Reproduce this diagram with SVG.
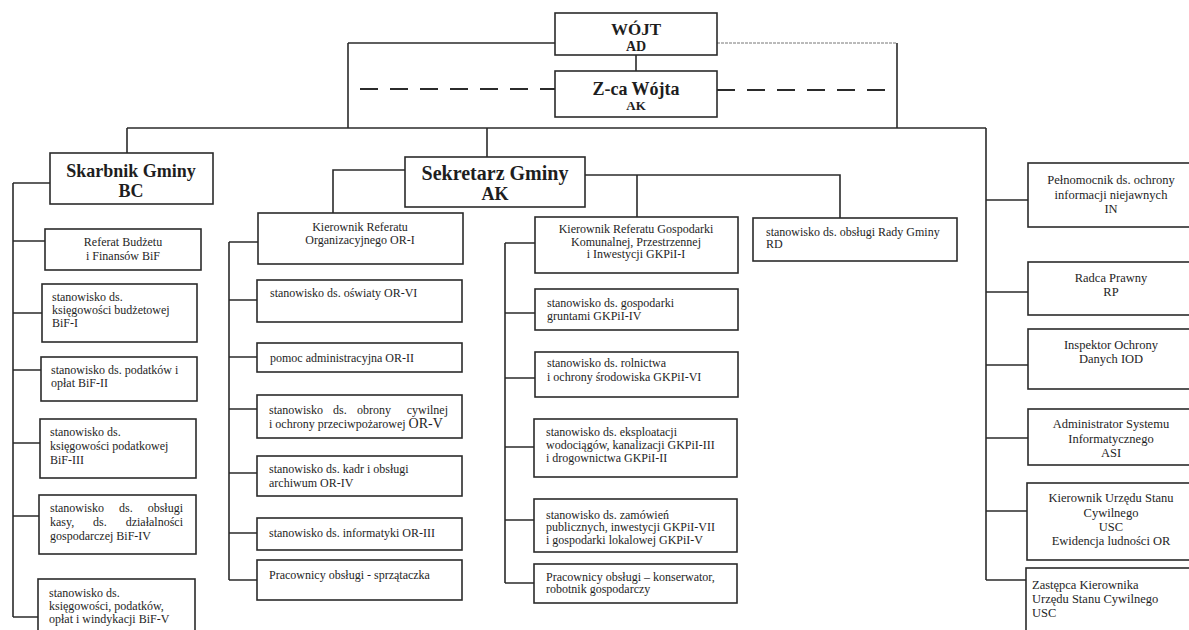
<svg xmlns="http://www.w3.org/2000/svg" width="1189" height="630" viewBox="0 0 1189 630">
<style>
.box{fill:#fff;stroke:#2b2b2b;stroke-width:1.6}
.ln{fill:none;stroke:#2b2b2b;stroke-width:1.6}
.dash{fill:none;stroke:#2b2b2b;stroke-width:2;stroke-dasharray:18 12}
.dot{fill:none;stroke:#777;stroke-width:1;stroke-dasharray:3 1}
text{font-family:"Liberation Serif","Times New Roman",serif;font-size:12px;fill:#1e1e1e}
.c{text-anchor:middle}
.e{text-anchor:end}
.b{font-weight:bold}
.r{font-size:12.5px}
</style>
<rect width="1189" height="630" fill="#fff"/>
<g id="connectors">
<path class="ln" d="M348,43 H555 M348,43 V128 M636,55 V71 M897,43 V128"/>
<path class="dot" d="M717,43 H897"/>
<path class="dash" d="M360,89 H555 M717,90 H892"/>
<path class="ln" d="M127,128 H986 M127,128 V153 M487,128 V157 M986,128 V580"/>
<path class="ln" d="M13,183 V617 M13,183 H50 M13,241 H45 M13,313 H42 M13,370 H41 M13,443 H40 M13,516 H39 M13,617 H38"/>
<path class="ln" d="M405,170 H333 V213 M585,175 H840 V218 M637,175 V217"/>
<path class="ln" d="M229,242 V580 M229,242 H258 M229,300 H257 M229,357 H257 M229,409 H257 M229,473 H257 M229,533 H257 M229,580 H257"/>
<path class="ln" d="M505,243 V583 M505,243 H535 M505,313 H535 M505,378 H535 M505,447 H534 M505,520 H534 M505,583 H534"/>
<path class="ln" d="M986,200 H1028 M986,292 H1028 M986,365 H1028 M986,438 H1028 M986,511 H1028 M986,580 H1028"/>
</g>
<g id="wojt"><rect class="box" x="555" y="13" width="162" height="42"/>
<text class="c b" x="636" y="35" style="font-size:17px">WÓJT</text><text class="c b" x="636" y="51" style="font-size:14px">AD</text></g>
<g id="zca"><rect class="box" x="555" y="71" width="162" height="46"/>
<text class="c b" x="636" y="95" style="font-size:18px">Z-ca Wójta</text><text class="c b" x="636" y="110" style="font-size:13px">AK</text></g>
<g id="skarbnik"><rect class="box" x="50" y="153" width="163" height="51"/>
<text class="c b" x="131" y="177" style="font-size:18px">Skarbnik Gminy</text><text class="c b" x="131" y="197" style="font-size:18px">BC</text></g>
<g id="sekretarz"><rect class="box" x="405" y="157" width="180" height="50"/>
<text class="c b" x="495" y="180" style="font-size:20px">Sekretarz Gminy</text><text class="c b" x="495" y="200" style="font-size:18px">AK</text></g>
<g id="bif"><rect class="box" x="45" y="229" width="156" height="41"/>
<text class="c" x="123" y="246">Referat Budżetu</text><text class="c" x="123" y="260">i Finansów BiF</text></g>
<g id="bif1"><rect class="box" x="42" y="284" width="155" height="58"/>
<text x="52" y="301">stanowisko ds.</text><text x="52" y="314">księgowości budżetowej</text><text x="52" y="327">BiF-I</text></g>
<g id="bif2"><rect class="box" x="41" y="357" width="156" height="44"/>
<text x="51" y="374">stanowisko ds. podatków i</text><text x="51" y="387">opłat BiF-II</text></g>
<g id="bif3"><rect class="box" x="40" y="419" width="156" height="59"/>
<text x="50" y="436">stanowisko ds.</text><text x="50" y="450">księgowości podatkowej</text><text x="50" y="464">BiF-III</text></g>
<g id="bif4"><rect class="box" x="39" y="495" width="157" height="59"/>
<text x="50" y="512">stanowisko</text><text x="119" y="512">ds.</text><text class="e" x="183" y="512">obsługi</text>
<text x="50" y="526">kasy,</text><text x="93" y="526">ds.</text><text class="e" x="183" y="526">działalności</text>
<text x="50" y="540">gospodarczej BiF-IV</text></g>
<g id="bif5"><rect class="box" x="38" y="579" width="157" height="62"/>
<text x="49" y="597">stanowisko ds.</text><text x="49" y="610">księgowości, podatków,</text><text x="49" y="623">opłat i windykacji BiF-V</text></g>
<g id="or1"><rect class="box" x="258" y="213" width="205" height="51"/>
<text class="c" x="360" y="231">Kierownik Referatu</text><text class="c" x="360" y="244">Organizacyjnego OR-I</text></g>
<g id="or6"><rect class="box" x="257" y="280" width="205" height="42"/>
<text x="270" y="297">stanowisko ds. oświaty OR-VI</text></g>
<g id="or2"><rect class="box" x="257" y="343" width="205" height="29"/>
<text x="270" y="362">pomoc administracyjna OR-II</text></g>
<g id="or5"><rect class="box" x="257" y="395" width="205" height="43"/>
<text x="269" y="414">stanowisko</text><text x="333" y="414">ds.</text><text x="357" y="414">obrony</text><text class="e" x="448" y="414">cywilnej</text>
<text x="269" y="428">i ochrony przeciwpożarowej <tspan style="font-size:14px">OR-V</tspan></text></g>
<g id="or4"><rect class="box" x="257" y="456" width="205" height="40"/>
<text x="269" y="473">stanowisko ds. kadr i obsługi</text><text x="269" y="487">archiwum OR-IV</text></g>
<g id="or3"><rect class="box" x="257" y="518" width="205" height="32"/>
<text x="269" y="537">stanowisko ds. informatyki OR-III</text></g>
<g id="orp"><rect class="box" x="257" y="560" width="205" height="40"/>
<text x="269" y="579">Pracownicy obsługi - sprzątaczka</text></g>
<g id="gk1"><rect class="box" x="535" y="217" width="203" height="56"/>
<text class="c" x="636" y="233">Kierownik Referatu Gospodarki</text><text class="c" x="636" y="246">Komunalnej, Przestrzennej</text><text class="c" x="636" y="258">i Inwestycji GKPiI-I</text></g>
<g id="gk4"><rect class="box" x="535" y="289" width="203" height="41"/>
<text x="547" y="307">stanowisko ds. gospodarki</text><text x="547" y="320">gruntami GKPiI-IV</text></g>
<g id="gk6"><rect class="box" x="535" y="352" width="203" height="45"/>
<text x="547" y="367">stanowisko ds. rolnictwa</text><text x="547" y="381">i ochrony środowiska GKPiI-VI</text></g>
<g id="gk3"><rect class="box" x="534" y="419" width="203" height="58"/>
<text x="546" y="436">stanowisko ds. eksploatacji</text><text x="546" y="449">wodociągów, kanalizacji  GKPiI-III</text><text x="546" y="462">i drogownictwa GKPiI-II</text></g>
<g id="gk7"><rect class="box" x="534" y="499" width="203" height="53"/>
<text x="546" y="519">stanowisko ds. zamówień</text><text x="546" y="531">publicznych, inwestycji GKPiI-VII</text><text x="546" y="544">i gospodarki lokalowej GKPiI-V</text></g>
<g id="gkp"><rect class="box" x="534" y="564" width="203" height="39"/>
<text x="546" y="581">Pracownicy obsługi – konserwator,</text><text x="546" y="593">robotnik gospodarczy</text></g>
<g id="rd"><rect class="box" x="753" y="218" width="204" height="43"/>
<text x="766" y="236">stanowisko ds. obsługi Rady Gminy</text><text x="766" y="248">RD</text></g>
<g id="in"><rect class="box" x="1028" y="163" width="170" height="64"/>
<text class="c r" x="1111" y="184">Pełnomocnik ds. ochrony</text><text class="c r" x="1111" y="199">informacji niejawnych</text><text class="c r" x="1111" y="213">IN</text></g>
<g id="rp"><rect class="box" x="1028" y="262" width="170" height="53"/>
<text class="c r" x="1111" y="282">Radca Prawny</text><text class="c r" x="1111" y="296">RP</text></g>
<g id="iod"><rect class="box" x="1028" y="329" width="170" height="60"/>
<text class="c r" x="1111" y="349">Inspektor Ochrony</text><text class="c r" x="1111" y="363">Danych IOD</text></g>
<g id="asi"><rect class="box" x="1028" y="409" width="170" height="56"/>
<text class="c r" x="1111" y="428">Administrator Systemu</text><text class="c r" x="1111" y="443">Informatycznego</text><text class="c r" x="1111" y="457">ASI</text></g>
<g id="usc"><rect class="box" x="1027" y="483" width="170" height="77"/>
<text class="c r" x="1111" y="502">Kierownik Urzędu Stanu</text><text class="c r" x="1111" y="517">Cywilnego</text><text class="c r" x="1111" y="531">USC</text><text class="c r" x="1111" y="545">Ewidencja ludności OR</text></g>
<g id="zusc"><rect class="box" x="1026" y="568" width="170" height="72"/>
<text class="r" x="1032" y="589">Zastępca Kierownika</text><text class="r" x="1032" y="603">Urzędu Stanu Cywilnego</text><text class="r" x="1032" y="617">USC</text></g>
</svg>
